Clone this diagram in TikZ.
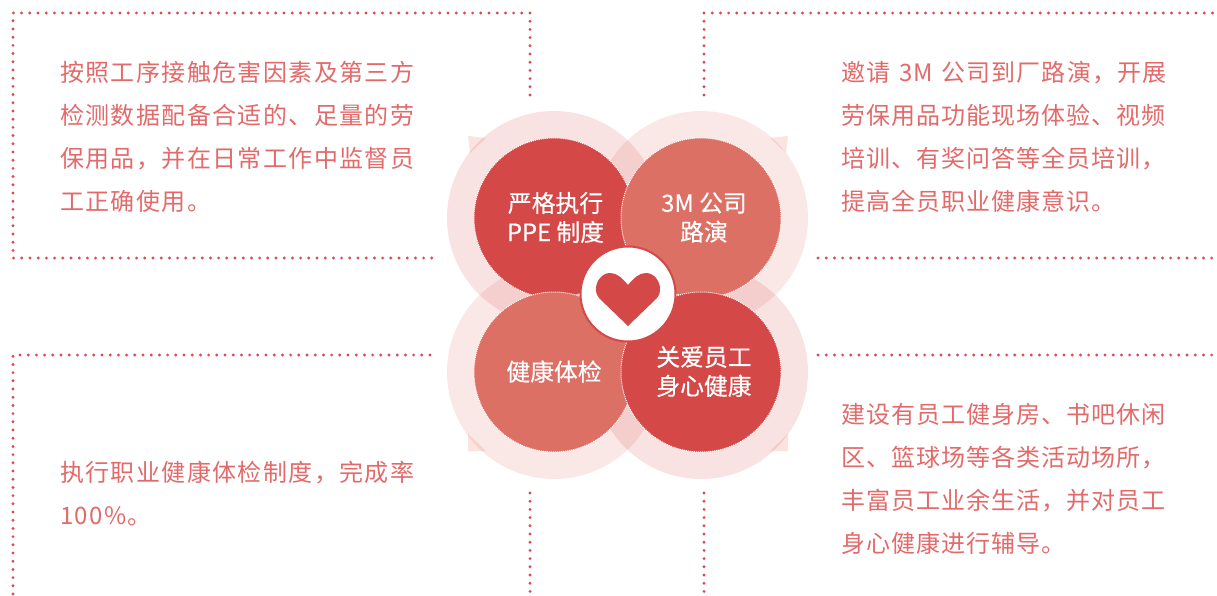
\documentclass[tikz,border=0pt]{standalone}
\usepackage{fontspec}
\setmainfont{Noto Sans CJK SC}
\newfontfamily\bodyfont[LetterSpace=5.8]{Noto Sans CJK SC}
\newfontfamily\sidefont[LetterSpace=4.4]{Noto Sans CJK SC}
\newfontfamily\petalfont[FakeBold=0.4]{Noto Sans CJK SC}
\usetikzlibrary{positioning}
\definecolor{deepred}{HTML}{D44848}
\definecolor{softred}{HTML}{DC7065}
\definecolor{dotred}{HTML}{DA4A50}
\definecolor{bodyred}{HTML}{E26A6A}
\definecolor{tipred}{HTML}{FBE3E0}
\tikzstyle{ring} = [circle, minimum size=214pt, inner sep=0pt, opacity=0.16]
\tikzstyle{petal} = [circle, minimum size=160pt, inner sep=0pt, draw=white, densely dotted, line width=1pt]
\tikzstyle{petallabel} = [align=center, inner sep=0pt, yshift=0.5pt, text=white, font=\petalfont\fontsize{23.8}{29}\selectfont]
\tikzstyle{hub} = [circle, minimum size=95pt, inner sep=0pt, fill=white, draw=deepred, line width=2pt]
\tikzstyle{body} = [anchor=west, align=left, inner sep=0pt, text=bodyred, font=\bodyfont\fontsize{24}{43}\selectfont]
\tikzstyle{sidebody} = [body, font=\sidefont\fontsize{24}{43}\selectfont]
\tikzstyle{frame} = [dotred, line width=3.2pt, line cap=round, dash pattern=on 0pt off 8.2pt]
\tikzstyle{tip} = [fill=tipred]
\newcommand{\fitline}[1]{\makebox[325pt][s]{#1}}

\begin{document}
\begin{tikzpicture}[x=1pt, y=-1pt, node distance=147pt]
\useasboundingbox (0,0) rectangle (1217,596);

% dotted frames
\draw [frame] (530,95) -- (530,13) -- (13,13) -- (13,258) -- (433,258);
\draw [frame] (704,95) -- (704,13) -- (1217,13);
\draw [frame] (818,258) -- (1217,258);
\draw [frame] (430,355) -- (13,355) -- (13,596);
\draw [frame] (530,493) -- (530,596);
\draw [frame] (818,355) -- (1217,355);
\draw [frame] (704,493) -- (704,596);

% corner tips
\fill [tip] (468,136) -- (486,138) -- (470,153) -- cycle;
\fill [tip] (788,136) -- (770,138) -- (786,153) -- cycle;
\fill [tip] (468,451) -- (468,434) -- (486,451) -- cycle;
\fill [tip] (788,451) -- (788,434) -- (770,451) -- cycle;

% rings
\node [ring, fill=deepred] (ringa) at (554,218) {};
\node [ring, fill=softred, right of=ringa] (ringb) {};
\node [ring, fill=softred, below of=ringa, node distance=154pt] (ringc) {};
\node [ring, fill=deepred, right of=ringc] (ringd) {};

% petals
\node [petal, fill=deepred] (ppe) at (ringa) {};
\node [petal, fill=softred] (roadshow) at (ringb) {};
\node [petal, fill=softred] (checkup) at (ringc) {};
\node [petal, fill=deepred] (care) at (ringd) {};
\node [petallabel, xshift=1.5pt] (ppelabel) at (ppe) {严格执行\\PPE 制度};
\node [petallabel, xshift=3pt] (roadshowlabel) at (roadshow) {3M 公司\\路演};
\node [petallabel] (checkuplabel) at (checkup) {健康体检};
\node [petallabel, xshift=3pt] (carelabel) at (care) {关爱员工\\身心健康};

% heart
\node [hub] (hub) at (628,294) {};
\fill [deepred] (628,285) .. controls (622,278) and (617,273) .. (610,273) .. controls (602,273) and (596,281) .. (596,289) .. controls (596,293) and (597,296) .. (599,298) -- (628,326) -- (657,298) .. controls (659,296) and (660,293) .. (660,289) .. controls (660,281) and (654,273) .. (646,273) .. controls (639,273) and (634,278) .. (628,285) -- cycle;

% texts
\node [body] (ppetext) at (60,137) {按照工序接触危害因素及第三方\\检测数据配备合适的、足量的劳\\保用品，并在日常工作中监督员\\工正确使用。};
\node [sidebody] (roadshowtext) at (841,137) {\fitline{邀请 3M 公司到厂路演，开展}\\劳保用品功能现场体验、视频\\培训、有奖问答等全员培训，\\提高全员职业健康意识。};
\node [body] (checkuptext) at (60,494) {执行职业健康体检制度，完成率\\100\%。};
\node [sidebody] (caretext) at (841,479) {建设有员工健身房、书吧休闲\\区、篮球场等各类活动场所，\\丰富员工业余生活，并对员工\\身心健康进行辅导。};

\end{tikzpicture}
\end{document}
